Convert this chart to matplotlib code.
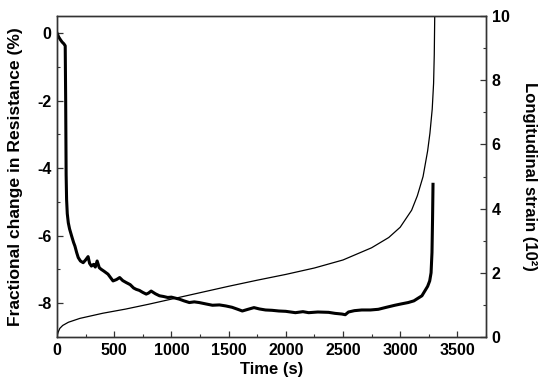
import matplotlib
matplotlib.use("Agg")
import matplotlib.pyplot as plt
from matplotlib.ticker import MultipleLocator

plt.rcParams['font.family'] = ['Liberation Sans', 'DejaVu Sans']
plt.rcParams['font.weight'] = 'bold'
plt.rcParams['axes.unicode_minus'] = False

# fractional change in resistance (%) vs time (s)
res_t = [0, 15, 30, 45, 60, 72, 76, 80, 84, 90,
         99, 110, 128, 145, 157, 172, 186, 205, 229, 250,
         272, 285, 301, 320, 335, 351, 370, 388, 410, 430,
         446, 470, 490, 520, 548, 575, 606, 640, 670, 693,
         720, 750, 780, 800, 823, 860, 896, 930, 968, 1000,
         1035, 1070, 1110, 1157, 1200, 1243, 1300, 1359, 1420, 1475,
         1530, 1580, 1620, 1670, 1722, 1770, 1823, 1880, 1939, 2000,
         2084, 2150, 2200, 2280, 2374, 2430, 2490, 2520, 2548, 2600,
         2664, 2740, 2809, 2880, 2954, 3010, 3070, 3120, 3157, 3190,
         3215, 3240, 3258, 3270, 3278, 3283, 3287]
res_v = [0, -0.12, -0.2, -0.27, -0.32, -0.38, -2.0, -4.2, -4.93, -5.35,
         -5.62, -5.8, -6.01, -6.2, -6.31, -6.5, -6.65, -6.75, -6.80, -6.72,
         -6.62, -6.82, -6.9, -6.85, -6.93, -6.75, -6.95, -7.0, -7.05, -7.1,
         -7.14, -7.25, -7.34, -7.3, -7.24, -7.33, -7.39, -7.45, -7.55, -7.59,
         -7.62, -7.68, -7.73, -7.7, -7.64, -7.72, -7.78, -7.8, -7.83, -7.82,
         -7.85, -7.88, -7.93, -7.98, -7.96, -7.98, -8.02, -8.06, -8.05, -8.08,
         -8.12, -8.18, -8.23, -8.18, -8.13, -8.17, -8.2, -8.21, -8.23, -8.24,
         -8.28, -8.25, -8.28, -8.26, -8.27, -8.3, -8.32, -8.34, -8.26, -8.22,
         -8.2, -8.2, -8.18, -8.12, -8.06, -8.02, -7.98, -7.93, -7.85, -7.78,
         -7.64, -7.5, -7.34, -7.1, -6.5, -5.5, -4.48]

# longitudinal strain (10^-2) vs time (s)
strain_t = [0, 10, 25, 50, 100, 200, 400, 600, 800, 1000, 1250, 1500, 1750, 2000,
            2250, 2500, 2750, 2900, 3000, 3100, 3150, 3200, 3240, 3260, 3280, 3292, 3298, 3302]
strain_v = [0.03, 0.15, 0.27, 0.36, 0.46, 0.58, 0.74, 0.87, 1.02, 1.18, 1.38, 1.58, 1.77, 1.95,
            2.15, 2.4, 2.78, 3.1, 3.42, 3.95, 4.4, 5.0, 5.8, 6.35, 7.1, 7.9, 8.8, 10.0]

fig = plt.figure(figsize=(5.5, 3.92), dpi=100)
ax = fig.add_axes([0.1036, 0.1403, 0.7800, 0.8187])
ax2 = ax.twinx()

ax.plot(res_t, res_v, color='black', lw=2.2, solid_joinstyle='round')
ax2.plot(strain_t, strain_v, color='black', lw=0.9)

ax.set_xlim(0, 3750)
ax.set_ylim(-9, 0.5)
ax2.set_ylim(0, 10)

ax.xaxis.set_major_locator(MultipleLocator(500))
ax.xaxis.set_minor_locator(MultipleLocator(250))
ax.yaxis.set_major_locator(MultipleLocator(2))
ax.yaxis.set_minor_locator(MultipleLocator(1))
ax2.yaxis.set_major_locator(MultipleLocator(2))
ax2.yaxis.set_minor_locator(MultipleLocator(1))

for a in (ax, ax2):
    for s in a.spines.values():
        s.set_color('#333333')
        s.set_linewidth(1.0)
    a.tick_params(which='both', direction='in', colors='#333333', labelcolor='black',
                  labelsize=11.5, pad=4)
    a.tick_params(which='major', length=4, width=0.9)
    a.tick_params(which='minor', length=2.5, width=0.8)
ax.tick_params(axis='y', which='both', right=False)
ax.tick_params(axis='x', which='both', top=False)

for lab in ax.get_xticklabels() + ax.get_yticklabels() + ax2.get_yticklabels():
    lab.set_fontweight('bold')

ax.set_xlabel('Time (s)', fontsize=12, fontweight='bold', labelpad=3)
ax.set_ylabel('Fractional change in Resistance (%)', fontsize=12.6, fontweight='bold')
ax2.set_ylabel('Longitudinal strain (10²)', fontsize=12, fontweight='bold',
               rotation=270, labelpad=20)
ax.yaxis.set_label_coords(-0.08, 0.5)

fig.savefig('out.png', dpi=100)
